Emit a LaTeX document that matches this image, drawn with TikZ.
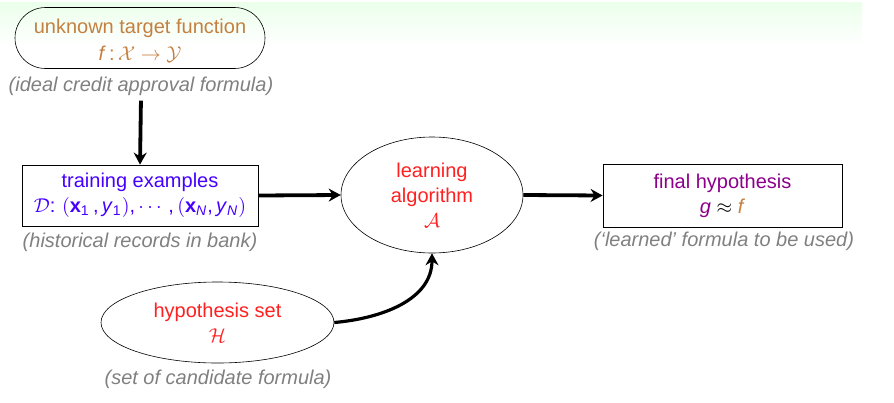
\documentclass[tikz,border=0pt]{standalone}
\usepackage{fontspec}
\setmainfont{Liberation Sans}
\usetikzlibrary{shapes.geometric,shapes.misc,arrows.meta}
\definecolor{tgt}{RGB}{196,128,64}
\definecolor{trn}{RGB}{70,0,255}
\definecolor{alg}{RGB}{255,32,32}
\definecolor{fin}{RGB}{140,0,140}
\definecolor{note}{RGB}{128,128,128}
\newcommand{\vi}[1]{\textit{#1}}
\tikzset{
  every node/.style={font=\fontsize{10}{12.5}\selectfont, align=center, inner sep=1pt},
  boxnode/.style={draw=black, line width=0.4pt, rectangle},
  ovalnode/.style={draw=black, line width=0.3pt, ellipse, inner sep=0pt},
  notenode/.style={text=note, font=\fontsize{10}{12.5}\selectfont\itshape},
  flow/.style={line width=1.9pt, -{Stealth[length=6pt,width=6.5pt,inset=2pt]}},
}
\begin{document}
\begin{tikzpicture}[x=0.5pt,y=-0.5pt]
\useasboundingbox (0,0) rectangle (894,402);
\shade[top color=green!8, bottom color=white] (0,2) rectangle (862,46);
% target
\node[draw=black, line width=0.3pt, rounded rectangle, minimum width=127pt, minimum height=30.5pt, text=tgt] (target) at (140,38) {};
\node[text=tgt] (ttext) at (140,40.5)
  {unknown target function\\[1pt] \vi{f}\,:\,$\mathcal{X}\to\mathcal{Y}$};
\node[notenode] (tnote) at (141,86) {(ideal credit approval formula)};
% training
\node[boxnode, minimum width=118pt, minimum height=30.5pt, text=trn] (train) at (140,195.5)
  {training examples\\ $\mathcal{D}$:\,\,$($\textbf{x}\textsubscript{1}\,,\,\vi{y}\textsubscript{1}$)$,\,$\cdots$\,\,,\,$($\textbf{x}\textsubscript{\vi{N}},\,\vi{y}\textsubscript{\vi{N}}$)$};
\node[notenode] (trnote) at (140,242) {(historical records in bank)};
% learning algorithm
\node[ovalnode, minimum width=91pt, minimum height=58pt, text=alg] (alg) at (432,195)
  {learning\\ algorithm\\ $\mathcal{A}$};
% final
\node[boxnode, minimum width=119.5pt, minimum height=31.5pt, text=fin] (final) at (722.5,195.5)
  {final hypothesis\\ \vi{g} {\color{black}$\approx$} {\color{tgt}\vi{f}}};
\node[notenode] (fnote) at (724,241) {(`learned' formula to be used)};
% hypothesis set
\node[ovalnode, minimum width=116.5pt, minimum height=40.5pt, text=alg] (hyp) at (217.5,322.5)
  {hypothesis set\\ $\mathcal{H}$};
\node[notenode] (hnote) at (218,379) {(set of candidate formula)};
% arrows
\draw[flow, shorten <=1.5pt] (tnote.south) -- (train.north);
\draw[flow] (train.east) -- (alg.west);
\draw[flow] (alg.east) -- (final.west);
\draw[flow, line width=1.6pt] (hyp.east) to[out=5, in=-90] (alg.south);
\end{tikzpicture}
\end{document}
